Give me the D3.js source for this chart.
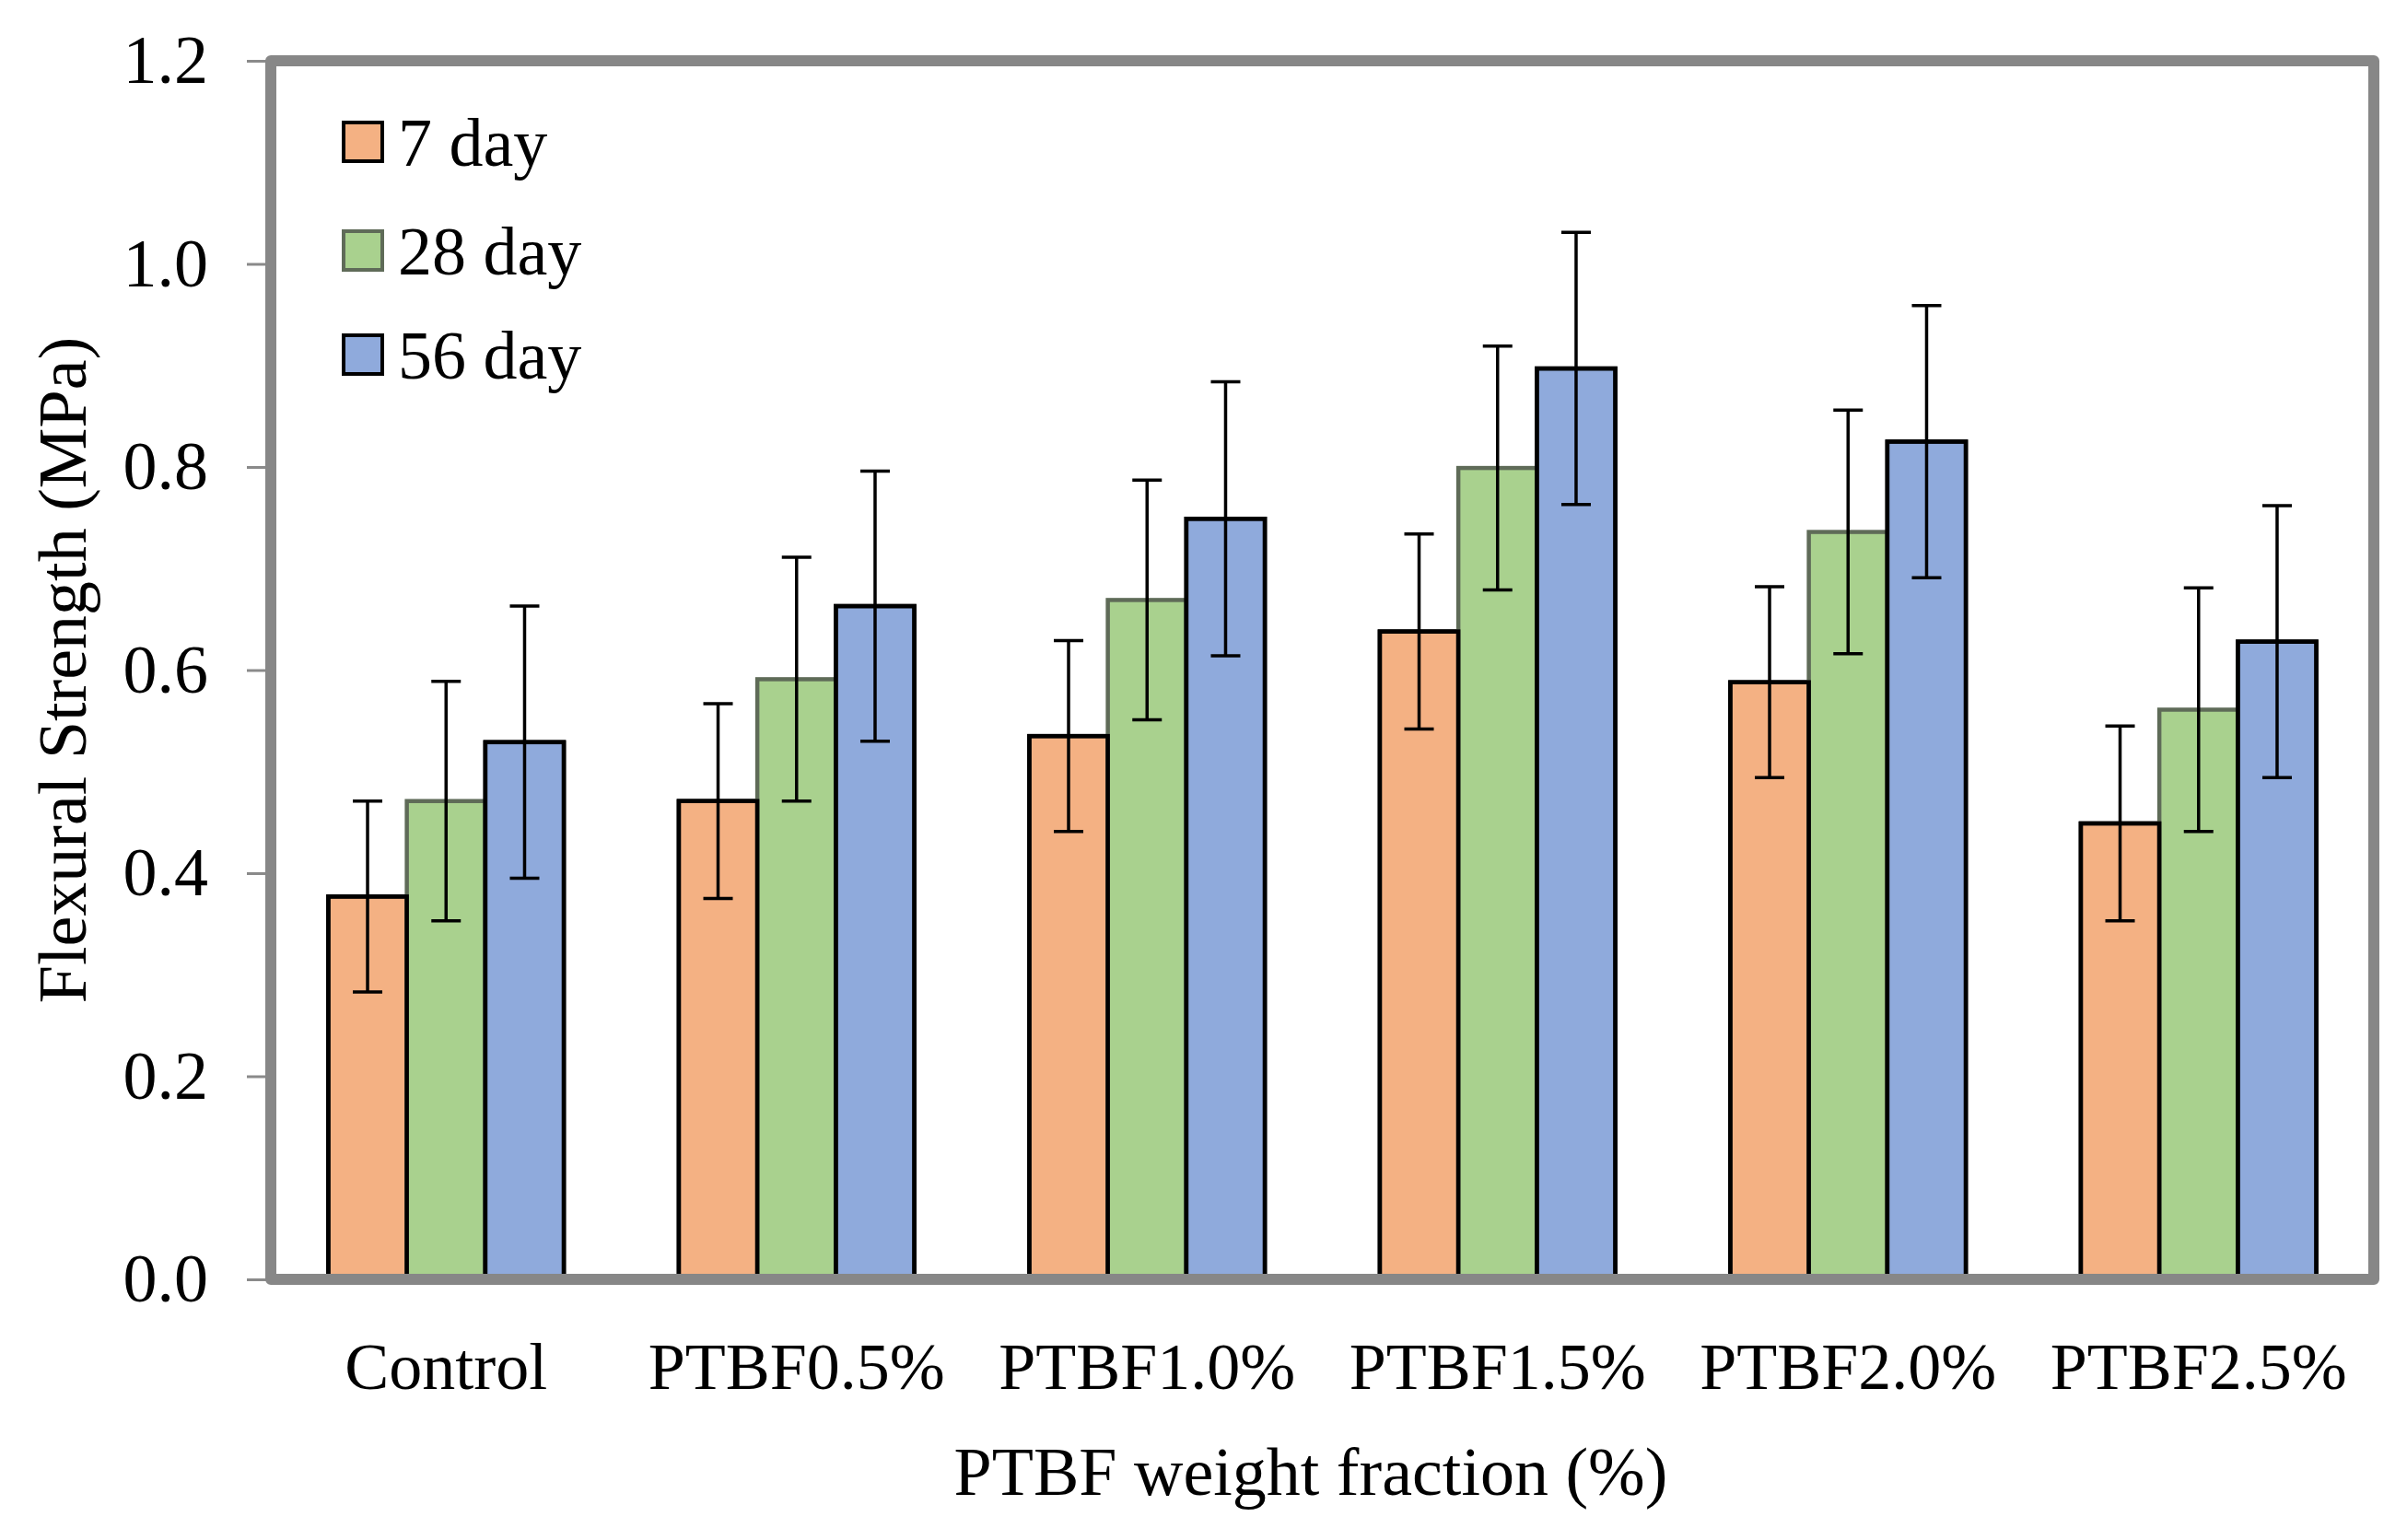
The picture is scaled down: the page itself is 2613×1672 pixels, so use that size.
<!DOCTYPE html>
<html>
<head>
<meta charset="utf-8">
<script src="https://cdn.jsdelivr.net/npm/d3@7"></script>
<style>
  html, body { margin: 0; padding: 0; background: #fff; }
  svg { display: block; }
</style>
</head>
<body>
<svg id="chart" width="2613" height="1672"></svg>
<script>
// ---- data ----
const categories = ["Control", "PTBF0.5%", "PTBF1.0%", "PTBF1.5%", "PTBF2.0%", "PTBF2.5%"];
const seriesNames = ["7 day", "28 day", "56 day"];
const day7  = [0.377, 0.471, 0.535, 0.638, 0.588, 0.449];
const day28 = [0.471, 0.591, 0.669, 0.799, 0.736, 0.561];
const day56 = [0.529, 0.663, 0.749, 0.897, 0.825, 0.628];
const err7  = [0.094, 0.096, 0.094, 0.096, 0.094, 0.096];
const err28 = [0.118, 0.120, 0.118, 0.120, 0.120, 0.120];
const err56 = [0.134, 0.133, 0.135, 0.134, 0.134, 0.134];
const yTicks = [0, 0.2, 0.4, 0.6, 0.8, 1.0, 1.2];
const colors = ["#F4B183", "#A9D18E", "#8FAADC"];
const strokes = ["#000000", "#5f6b58", "#000000"];

(function () {
const values = [day7, day28, day56];
const errors = [err7, err28, err56];

const svg = d3.select("#chart");
const FONT = "'Liberation Serif', 'Times New Roman', serif";
const FS = 74;

const pL = 294, pR = 2577, pT = 66, pB = 1389;

const x = d3.scaleBand().domain(categories).range([pL, pR])
  .paddingInner(0.328).paddingOuter(0.164);
const xs = d3.scaleBand().domain(seriesNames).range([0, x.bandwidth()]).padding(0);
const y = d3.scaleLinear().domain([0, 1.2]).range([pB, pT]);

// y axis (ticks + labels)
const yAxis = d3.axisLeft(y).tickValues(yTicks).tickFormat(d3.format(".1f"))
  .tickSizeInner(26).tickSizeOuter(0).tickPadding(42);
const gy = svg.append("g").attr("transform", `translate(${pL},0)`).call(yAxis);
gy.select(".domain").remove();
gy.selectAll(".tick line").attr("stroke", "#8a8a8a").attr("stroke-width", 3);
gy.selectAll(".tick text").attr("font-family", FONT).attr("font-size", FS).attr("fill", "#000");

// bars
const rows = [];
categories.forEach((c, i) => {
  seriesNames.forEach((s, j) => {
    rows.push({ c, s, j, v: values[j][i], e: errors[j][i] });
  });
});

const gb = svg.append("g");
gb.selectAll("rect.bar").data(rows).enter().append("rect")
  .attr("class", "bar")
  .attr("x", d => x(d.c) + xs(d.s))
  .attr("y", d => y(d.v))
  .attr("width", xs.bandwidth())
  .attr("height", d => y(0) - y(d.v))
  .attr("fill", d => colors[d.j])
  .attr("stroke", d => strokes[d.j])
  .attr("stroke-width", 4.5);
gb.selectAll("rect.ol").data(rows.filter(d => d.j !== 1)).enter().append("rect")
  .attr("class", "ol")
  .attr("x", d => x(d.c) + xs(d.s))
  .attr("y", d => y(d.v))
  .attr("width", xs.bandwidth())
  .attr("height", d => y(0) - y(d.v))
  .attr("fill", "none")
  .attr("stroke", "#000")
  .attr("stroke-width", 4.5);

// error bars
const ge = svg.append("g").attr("stroke", "#000").attr("stroke-width", 3.5);
const cap = 16;
rows.forEach(d => {
  const cx = x(d.c) + xs(d.s) + xs.bandwidth() / 2;
  ge.append("line").attr("x1", cx).attr("x2", cx).attr("y1", y(d.v + d.e)).attr("y2", y(d.v - d.e));
  ge.append("line").attr("x1", cx - cap).attr("x2", cx + cap).attr("y1", y(d.v + d.e)).attr("y2", y(d.v + d.e));
  ge.append("line").attr("x1", cx - cap).attr("x2", cx + cap).attr("y1", y(d.v - d.e)).attr("y2", y(d.v - d.e));
});

// frame
svg.append("rect").attr("x", pL).attr("y", pT)
  .attr("width", pR - pL).attr("height", pB - pT)
  .attr("fill", "none").attr("stroke", "#878787").attr("stroke-width", 12)
  .attr("stroke-linejoin", "round");

// x category labels
svg.append("g").selectAll("text").data(categories).enter().append("text")
  .attr("x", d => x(d) + x.bandwidth() / 2)
  .attr("y", 1483)
  .attr("dy", "0.35em")
  .attr("text-anchor", "middle")
  .attr("font-family", FONT).attr("font-size", 72).attr("fill", "#000")
  .text(d => d);

// axis titles
svg.append("text").attr("x", 1423).attr("y", 1597).attr("dy", "0.35em")
  .attr("text-anchor", "middle").attr("font-family", FONT).attr("font-size", FS)
  .text("PTBF weight fraction (%)");
svg.append("text").attr("transform", `translate(67,${(pT + pB) / 2}) rotate(-90)`)
  .attr("dy", "0.35em").attr("text-anchor", "middle")
  .attr("font-family", FONT).attr("font-size", FS)
  .text("Flexural Strength (MPa)");

// legend
const lg = svg.append("g");
const legY = [154, 272, 385];
seriesNames.forEach((s, j) => {
  lg.append("rect").attr("x", 373).attr("y", legY[j] - 21).attr("width", 42).attr("height", 42)
    .attr("fill", colors[j]).attr("stroke", j === 1 ? "#5f6b58" : "#000").attr("stroke-width", 4);
  lg.append("text").attr("x", 432).attr("y", legY[j]).attr("dy", "0.35em")
    .attr("font-family", FONT).attr("font-size", FS).text(s);
});
})();
</script>
</body>
</html>
